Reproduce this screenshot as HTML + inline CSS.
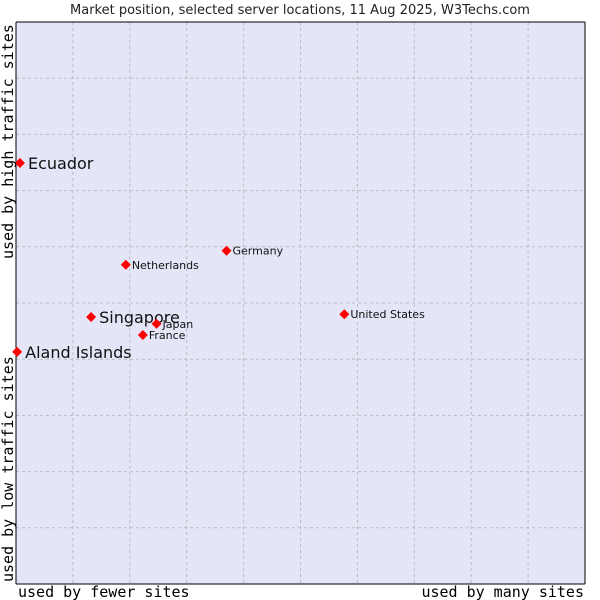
<!DOCTYPE html>
<html><head><meta charset="utf-8"><style>
body{margin:0;background:#fff;}
svg{display:block;font-family:"DejaVu Sans","Liberation Sans",sans-serif;}
</style></head><body>
<svg id="chart" width="600" height="600">
<text x="300" y="14" text-anchor="middle" font-size="13" fill="#222">Market position, selected server locations, 11 Aug 2025, W3Techs.com</text>
<rect x="16" y="22" width="569" height="562" fill="#e4e6f8"/>
<g id="grid"></g>
<line x1="16" y1="22" x2="585" y2="22" stroke="#000"/>
<line x1="16" y1="22" x2="16" y2="584" stroke="#000"/>
<line x1="585" y1="22" x2="585" y2="584" stroke="#000"/>
<line x1="16" y1="584" x2="585" y2="584" stroke="#000"/>
<g id="points"></g>
<text x="18" y="597" font-family="'DejaVu Sans Mono','Liberation Mono',monospace" font-size="15" fill="#000">used by fewer sites</text>
<text x="584" y="597" text-anchor="end" font-family="'DejaVu Sans Mono','Liberation Mono',monospace" font-size="15" fill="#000">used by many sites</text>
<text transform="translate(13,582) rotate(-90)" font-family="'DejaVu Sans Mono','Liberation Mono',monospace" font-size="15" fill="#000">used by low traffic sites</text>
<text transform="translate(13,259) rotate(-90)" font-family="'DejaVu Sans Mono','Liberation Mono',monospace" font-size="15" fill="#000">used by high traffic sites</text>
</svg>
<script>
const names=["Ecuador","Aland Islands","Singapore","Japan","France","Netherlands","Germany","United States"];
const xVals=[0.7,0.2,13.2,24.7,22.3,19.3,37.0,57.7];
const yVals=[74.9,41.3,47.5,46.3,44.3,56.8,59.3,48.0];
const big=[true,true,true,false,false,false,false,false];
const X0=16,X1=585,Y0=584,Y1=22;
const sx=v=>X0+v/100*(X1-X0);
const sy=v=>Y0-v/100*(Y0-Y1);
const NS="http://www.w3.org/2000/svg";
const grid=document.getElementById('grid');
for(let i=1;i<10;i++){
  const l=document.createElementNS(NS,'line');
  l.setAttribute('x1',sx(i*10));l.setAttribute('x2',sx(i*10));l.setAttribute('y1',Y1);l.setAttribute('y2',Y0);
  l.setAttribute('stroke','#bcbcbc');l.setAttribute('stroke-dasharray','3,3');
  
  
  grid.appendChild(l);
  const h=document.createElementNS(NS,'line');
  h.setAttribute('y1',sy(i*10));h.setAttribute('y2',sy(i*10));h.setAttribute('x1',X0);h.setAttribute('x2',X1);
  h.setAttribute('stroke','#bcbcbc');h.setAttribute('stroke-dasharray','3,3');
  
  
  grid.appendChild(h);
}
const pts=document.getElementById('points');
names.forEach((n,i)=>{
  const cx=sx(xVals[i]),cy=sy(yVals[i]);
  const d=document.createElementNS(NS,'path');
  d.setAttribute('d',`M${cx-5},${cy}L${cx},${cy-5}L${cx+5},${cy}L${cx},${cy+5}Z`);
  d.setAttribute('fill','#f00');
  
  
  pts.appendChild(d);
  const t=document.createElementNS(NS,'text');
  t.setAttribute('x',cx+(big[i]?8:6));
  t.setAttribute('y',cy+(big[i]?6:4));
  t.setAttribute('font-size',big[i]?16:11);
  t.setAttribute('fill','#111');
  t.textContent=n;
  
  
  pts.appendChild(t);
});
</script>
</body></html>
